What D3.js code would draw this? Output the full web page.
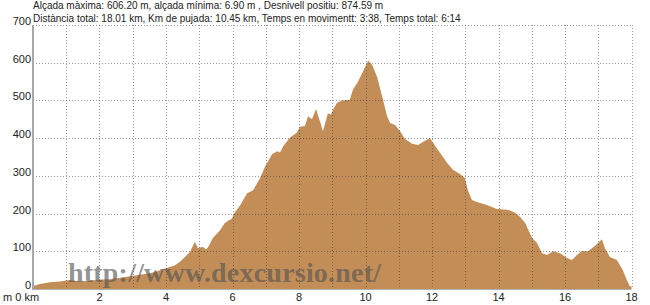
<!DOCTYPE html>
<html>
<head>
<meta charset="utf-8">
<script src="https://cdn.jsdelivr.net/npm/d3@7"></script>
<style>
  body { margin: 0; background: #fff; }
  svg { display: block; font-family: "Liberation Sans", Arial, sans-serif; }
</style>
</head>
<body>
<div class="svg-container"></div>
<script>
// dades del perfil (km, m)
const distancies = [0.00, 0.21, 0.51, 0.81, 1.11, 1.41, 1.71, 2.02, 2.32, 2.62, 2.92, 3.22, 3.52, 3.76, 4.00, 4.27, 4.42, 4.57, 4.72, 4.87, 4.96, 5.11, 5.20, 5.26, 5.41, 5.62, 5.77, 5.89, 5.98, 6.05, 6.23, 6.44, 6.62, 6.83, 6.98, 7.19, 7.34, 7.43, 7.52, 7.73, 7.94, 8.03, 8.18, 8.27, 8.39, 8.51, 8.63, 8.72, 8.87, 8.96, 9.02, 9.14, 9.29, 9.53, 9.62, 9.77, 9.92, 10.05, 10.08, 10.20, 10.35, 10.50, 10.65, 10.74, 10.89, 11.04, 11.19, 11.40, 11.58, 11.79, 11.94, 12.03, 12.24, 12.45, 12.63, 12.84, 12.99, 13.08, 13.20, 13.35, 13.65, 13.95, 14.26, 14.35, 14.50, 14.65, 14.80, 15.01, 15.16, 15.31, 15.46, 15.64, 15.85, 16.06, 16.21, 16.36, 16.51, 16.69, 16.90, 17.11, 17.20, 17.35, 17.56, 17.74, 17.86, 17.95, 18.00];
const alcades = [8, 13, 18, 20, 24, 20, 22, 25, 26, 30, 34, 38, 42, 48, 55, 63, 72, 85, 98, 125, 108, 112, 105, 110, 135, 155, 175, 182, 186, 200, 222, 254, 262, 294, 325, 357, 365, 362, 378, 402, 415, 430, 432, 458, 450, 477, 445, 418, 466, 462, 475, 493, 500, 502, 528, 549, 576, 600, 606, 594, 562, 511, 458, 440, 435, 418, 398, 385, 382, 393, 400, 388, 361, 335, 316, 305, 294, 262, 236, 231, 223, 212, 210, 208, 202, 191, 175, 135, 122, 95, 90, 100, 95, 82, 77, 90, 101, 100, 114, 132, 108, 85, 77, 50, 24, 7, 7];

const ticksY = [0, 100, 200, 300, 400, 500, 600, 700];
const ticksX = [2, 4, 6, 8, 10, 12, 14, 16, 18];
const liniesKm = d3.range(1, 19);

const capcalera = [
  'Alçada màxima: 606.20 m, alçada mínima: 6.90 m , Desnivell positiu: 874.59 m',
  'Distància total: 18.01 km, Km de pujada: 10.45 km, Temps en movimentt: 3:38, Temps total: 6:14'
];
const marcaAigua = 'http://www.dexcursio.net/';

const widthSVG = 650;
const heightSVG = 305;

const svg = d3.select('.svg-container')
  .append('svg')
  .attr('width', widthSVG)
  .attr('height', heightSVG);

const x = d3.scaleLinear().domain([0, 18]).range([33, 631.5]);
const y = d3.scaleLinear().domain([0, 700]).range([289, 25]);

const dades = distancies.map((d, i) => ({ km: d, alt: alcades[i] }));

// perfil
const area = d3.area()
  .x(d => x(d.km))
  .y0(y(0))
  .y1(d => y(d.alt));

svg.append('path')
  .datum(dades)
  .attr('d', area)
  .attr('fill', '#c28d57');

// graella
const graella = svg.append('g')
  .attr('stroke', '#333')
  .attr('stroke-opacity', 0.5)
  .attr('stroke-dasharray', '1,2');

graella.selectAll('line.h')
  .data(ticksY.slice(1))
  .enter().append('line')
  .attr('class', 'h')
  .attr('x1', x(0))
  .attr('x2', x(18))
  .attr('y1', d => Math.round(y(d)) + 0.5)
  .attr('y2', d => Math.round(y(d)) + 0.5);

graella.selectAll('line.v')
  .data(liniesKm)
  .enter().append('line')
  .attr('class', 'v')
  .attr('x1', d => Math.round(x(d)) + 0.5)
  .attr('x2', d => Math.round(x(d)) + 0.5)
  .attr('y1', y(700))
  .attr('y2', y(0));

// eixos
svg.append('line')
  .attr('x1', x(0)).attr('x2', x(0))
  .attr('y1', y(700)).attr('y2', y(0) + 1)
  .attr('stroke', '#a8a8a8')
  .attr('stroke-width', 2);

svg.append('line')
  .attr('x1', x(0)).attr('x2', x(18))
  .attr('y1', y(0) + 0.5).attr('y2', y(0) + 0.5)
  .attr('stroke', '#b0b0b0')
  .attr('stroke-width', 1);

// etiquetes Y
svg.append('g')
  .selectAll('text')
  .data(ticksY)
  .enter().append('text')
  .attr('x', 31)
  .attr('y', d => y(d))
  .attr('text-anchor', 'end')
  .attr('font-size', '11px')
  .attr('fill', '#222')
  .text(d => d);

// etiquetes X
svg.append('g')
  .selectAll('text')
  .data(ticksX)
  .enter().append('text')
  .attr('x', d => x(d))
  .attr('y', 301)
  .attr('text-anchor', 'middle')
  .attr('font-size', '11px')
  .attr('fill', '#222')
  .text(d => d);

svg.append('text')
  .attr('x', 3)
  .attr('y', 301)
  .attr('font-size', '11px')
  .attr('fill', '#222')
  .text('m 0 km');

// capçalera
svg.append('g')
  .selectAll('text')
  .data(capcalera)
  .enter().append('text')
  .attr('x', 33)
  .attr('y', (d, i) => 9 + i * 13)
  .attr('font-size', '10px')
  .attr('fill', '#222')
  .text(d => d);

// marca d'aigua
svg.append('text')
  .attr('x', 68)
  .attr('y', 282)
  .attr('font-family', '"Liberation Serif", "Times New Roman", serif')
  .attr('font-weight', 'bold')
  .attr('font-size', '28px')
  .attr('textLength', 313)
  .attr('fill', '#555')
  .attr('fill-opacity', 0.65)
  .text(marcaAigua);
</script>
</body>
</html>
